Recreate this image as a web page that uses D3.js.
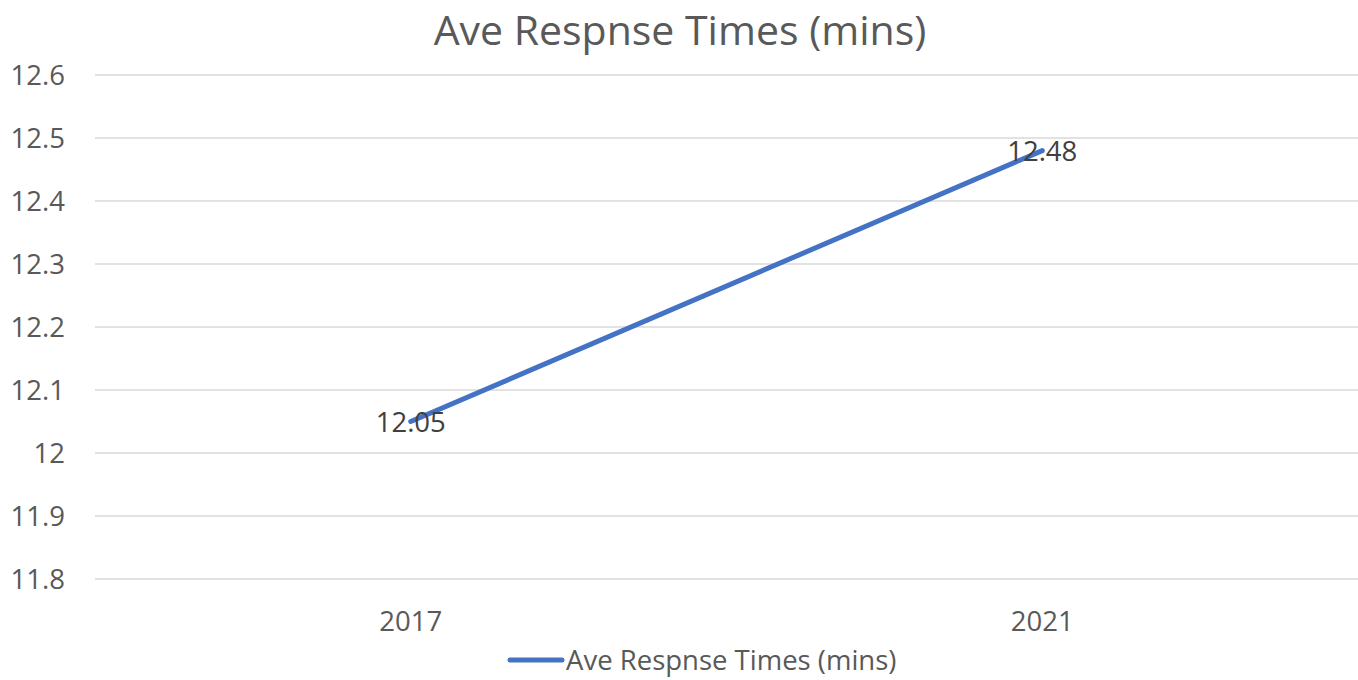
<!DOCTYPE html>
<html>
<head>
<meta charset="utf-8">
<script src="https://cdn.jsdelivr.net/npm/d3@7"></script>
<style>
  body { margin: 0; background: #fff; }
  text { font-family: "Open Sans", "Noto Sans", sans-serif; }
</style>
</head>
<body>
<svg id="chart" width="1358" height="680"></svg>
<script>
var years = ["2017", "2021"];
var responseTimes = [12.05, 12.48];
var yTicks = [11.8, 11.9, 12, 12.1, 12.2, 12.3, 12.4, 12.5, 12.6];
var seriesName = "Ave Respnse Times (mins)";

var width = 1358, height = 680,
    margin = {top: 75, right: 0, bottom: 101, left: 95};

var svg = d3.select("#chart");

var x = d3.scaleBand()
    .domain(years)
    .range([margin.left, width - margin.right]);

var y = d3.scaleLinear()
    .domain([11.8, 12.6])
    .range([height - margin.bottom, margin.top]);

// title
svg.append("text")
    .attr("x", 680)
    .attr("y", 45)
    .attr("text-anchor", "middle")
    .attr("font-size", 41)
    .attr("fill", "#595959")
    .text(seriesName);

// gridlines
svg.append("g")
  .selectAll("line")
  .data(yTicks)
  .enter().append("line")
    .attr("x1", margin.left)
    .attr("x2", width - margin.right)
    .attr("y1", function(d) { return y(d); })
    .attr("y2", function(d) { return y(d); })
    .attr("stroke", "#d9d9d9")
    .attr("stroke-width", 1.5);

// y axis labels
svg.append("g")
  .selectAll("text")
  .data(yTicks)
  .enter().append("text")
    .attr("x", 65)
    .attr("y", function(d) { return y(d); })
    .attr("dy", "0.35em")
    .attr("text-anchor", "end")
    .attr("font-size", 27.5)
    .attr("fill", "#595959")
    .text(function(d) { return d3.format("")(d); });

// x axis labels
svg.append("g")
  .selectAll("text")
  .data(years)
  .enter().append("text")
    .attr("x", function(d) { return x(d) + x.bandwidth() / 2; })
    .attr("y", 631)
    .attr("text-anchor", "middle")
    .attr("font-size", 27.5)
    .attr("fill", "#595959")
    .text(function(d) { return d; });

var points = years.map(function(d, i) { return {year: d, value: responseTimes[i]}; });

var line = d3.line()
    .x(function(d) { return x(d.year) + x.bandwidth() / 2; })
    .y(function(d) { return y(d.value); });

svg.append("path")
    .datum(points)
    .attr("d", line)
    .attr("fill", "none")
    .attr("stroke", "#4472c4")
    .attr("stroke-width", 5)
    .attr("stroke-linecap", "round");

// data labels
svg.append("g")
  .selectAll("text")
  .data(points)
  .enter().append("text")
    .attr("x", function(d) { return x(d.year) + x.bandwidth() / 2; })
    .attr("y", function(d) { return y(d.value) + 1; })
    .attr("dy", "0.35em")
    .attr("text-anchor", "middle")
    .attr("font-size", 27.5)
    .attr("fill", "#404040")
    .text(function(d) { return d.value; });

// legend
var legend = svg.append("g").attr("transform", "translate(0,660)");
legend.append("line")
    .attr("x1", 510).attr("x2", 562)
    .attr("y1", 0).attr("y2", 0)
    .attr("stroke", "#4472c4")
    .attr("stroke-width", 5)
    .attr("stroke-linecap", "round");
legend.append("text")
    .attr("x", 566)
    .attr("y", 0)
    .attr("dy", "0.35em")
    .attr("font-size", 27.5)
    .attr("fill", "#595959")
    .text(seriesName);
</script>
</body>
</html>
